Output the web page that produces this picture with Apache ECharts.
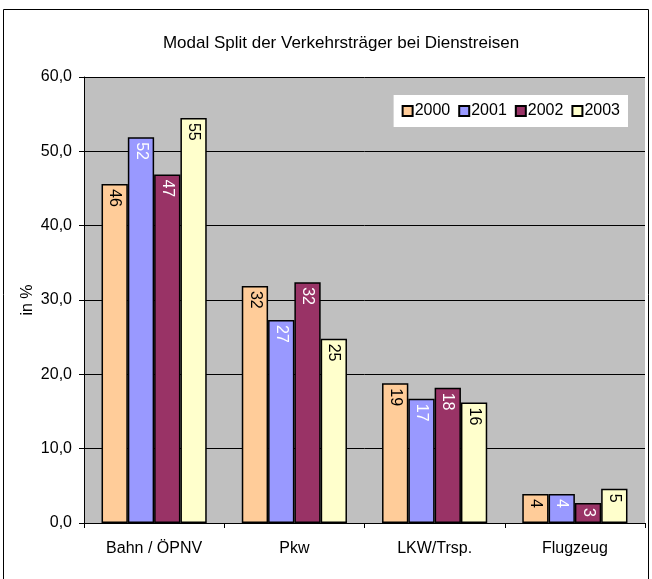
<!DOCTYPE html>
<html><head><meta charset="utf-8">
<script src="https://cdn.jsdelivr.net/npm/echarts@6/dist/echarts.min.js"></script>
<style>html,body{margin:0;padding:0;background:#fff}#c{width:652px;height:579px}</style>
</head><body><div id="c"></div>
<script>
const categories = ['Bahn / ÖPNV', 'Pkw', 'LKW/Trsp.', 'Flugzeug'];
const years = ['2000', '2001', '2002', '2003'];
const v2000 = [45.6, 31.9, 18.8, 3.9];
const v2001 = [51.9, 27.3, 16.7, 3.9];
const v2002 = [46.9, 32.4, 18.2, 2.7];
const v2003 = [54.5, 24.8, 16.2, 4.6];
const yTicks = [0, 10, 20, 30, 40, 50, 60];
const yAxisTitle = 'in %';
const colors = ['#FFCC99', '#9999FF', '#993366', '#FFFFCC'];
const labelColors = ['#000', '#fff', '#fff', '#000'];
const values = [v2000, v2001, v2002, v2003];
const font = 'Liberation Sans, Arial, sans-serif';

const chart = echarts.init(document.getElementById('c'), null, {renderer: 'canvas'});
chart.setOption({
  animation: false,
  backgroundColor: '#fff',
  title: {
    text: 'Modal Split der Verkehrsträger bei Dienstreisen',
    left: 336, top: 30, textAlign: 'center',
    textStyle: {fontFamily: font, fontSize: 17, fontWeight: 'normal', color: '#000'}
  },
  graphic: [{
    type: 'rect', shape: {x: 3.5, y: 9.5, width: 645, height: 580},
    style: {fill: 'none', stroke: '#000', lineWidth: 1}, silent: true, z: -1
  }, {
    type: 'text', x: 28, y: 300, rotation: Math.PI / 2,
    style: {text: yAxisTitle, font: '16px ' + font, fill: '#000',
            textAlign: 'center', textVerticalAlign: 'middle'}
  }],
  legend: {
    data: years, right: 24, top: 95, orient: 'horizontal',
    backgroundColor: '#fff', padding: [8, 8, 8, 8],
    itemWidth: 10, itemHeight: 10, itemGap: 8,
    textStyle: {fontFamily: font, fontSize: 16, color: '#000', padding: [0, 0, 0, -3]},
    icon: 'rect'
  },
  grid: {left: 84, right: 7, top: 77, bottom: 56, containLabel: false,
         show: true, backgroundColor: '#C0C0C0', borderWidth: 0},
  xAxis: {
    type: 'category', data: categories,
    axisLine: {lineStyle: {color: '#000'}},
    axisTick: {show: true, length: 5, inside: false, lineStyle: {color: '#000'}},
    axisLabel: {fontFamily: font, fontSize: 16, color: '#000', margin: 18}
  },
  yAxis: {
    type: 'value', min: 0, max: 60, interval: 10,
    axisLine: {show: true, lineStyle: {color: '#000'}},
    axisTick: {show: true, length: 5, lineStyle: {color: '#000'}},
    splitLine: {lineStyle: {color: '#000', width: 1}},
    axisLabel: {fontFamily: font, fontSize: 16, color: '#000', margin: 12,
      formatter: v => yTicks.includes(v) ? v.toFixed(1).replace('.', ',') : ''}
  },
  series: years.map((y, i) => ({
    name: y, type: 'bar', data: values[i],
    barGap: '0%', barCategoryGap: '25%',
    itemStyle: {color: colors[i], borderColor: '#000', borderWidth: 1.5},
    label: {
      show: true, position: 'insideTop', rotate: -90, align: 'left', verticalAlign: 'middle',
      distance: 5,
      formatter: p => Math.round(p.value),
      fontFamily: font, fontSize: 16, color: labelColors[i]
    }
  }))
});
</script></body></html>
